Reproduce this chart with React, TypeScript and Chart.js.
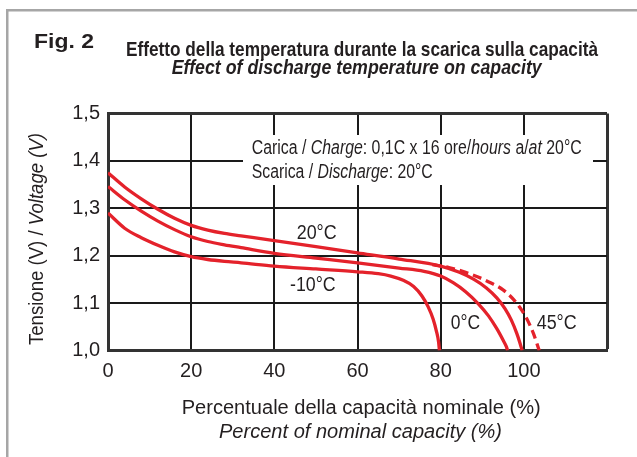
import React, { useEffect, useRef } from 'react';
import { Chart, registerables } from 'chart.js';

Chart.register(...registerables);

// ---- Data ----
const xTickValues = [0, 20, 40, 60, 80, 100];
const xMax = 120;
const yMin = 1.0;
const yMax = 1.5;
const yStep = 0.1;

const capMinus10 = [0, 4, 8, 12, 16, 20, 24, 28, 32, 40, 50, 60, 65, 68, 71, 73.5, 75.5, 77, 78.2, 79, 79.5, 79.7];
const voltMinus10 = [1.29, 1.258, 1.238, 1.222, 1.208, 1.198, 1.192, 1.188, 1.185, 1.178, 1.172, 1.166, 1.162, 1.157, 1.148, 1.135, 1.115, 1.092, 1.066, 1.04, 1.018, 1.0];

const cap0 = [0, 4, 8, 12, 16, 20, 24, 28, 32, 40, 50, 60, 70, 76, 80, 83, 86, 89, 91.5, 93.5, 95, 95.8, 96.1];
const volt0 = [1.346, 1.318, 1.294, 1.273, 1.255, 1.24, 1.23, 1.223, 1.217, 1.205, 1.195, 1.185, 1.174, 1.167, 1.157, 1.143, 1.124, 1.099, 1.073, 1.046, 1.022, 1.008, 1.0];

const cap20 = [0, 4, 8, 12, 16, 20, 24, 28, 32, 40, 50, 60, 70, 80, 84.5, 88, 91, 93.5, 95.5, 97, 98.3, 99.1, 99.6];
const volt20 = [1.375, 1.345, 1.32, 1.298, 1.279, 1.264, 1.254, 1.247, 1.242, 1.232, 1.219, 1.206, 1.193, 1.178, 1.165, 1.15, 1.132, 1.111, 1.088, 1.064, 1.036, 1.015, 1.0];

const cap45 = [78, 82, 86, 89, 92, 95, 97.5, 99.5, 101, 102.3, 103.1, 103.7];
const volt45 = [1.181, 1.175, 1.165, 1.155, 1.143, 1.128, 1.108, 1.085, 1.062, 1.036, 1.016, 1.0];

const seriesLabels = ['-10°C', '0°C', '20°C', '45°C'];

const FONT = '"Liberation Sans", Arial, Helvetica, sans-serif';
const TEXT = '#231f20';
const RED = '#e4222b';
const GRID = '#1a1a1a';
const BORDER = '#333333';

type Seg = { t: string; f: string };

function drawMixed(ctx: CanvasRenderingContext2D, segs: Seg[], x: number, y: number, width: number, align: 'left' | 'center') {
  ctx.save();
  ctx.textAlign = 'left';
  ctx.textBaseline = 'alphabetic';
  ctx.fillStyle = TEXT;
  let total = 0;
  const ws: number[] = [];
  for (const s of segs) {
    ctx.font = s.f;
    const w = ctx.measureText(s.t).width;
    ws.push(w);
    total += w;
  }
  const sx = width / total;
  const startX = align === 'center' ? x - width / 2 : x;
  ctx.translate(startX, y);
  ctx.scale(sx, 1);
  let cx = 0;
  segs.forEach((s, i) => {
    ctx.font = s.f;
    ctx.fillText(s.t, cx, 0);
    cx += ws[i];
  });
  ctx.restore();
}

const n = (px: number) => `${px}px ${FONT}`;
const it = (px: number) => `italic ${px}px ${FONT}`;
const b = (px: number) => `bold ${px}px ${FONT}`;
const bi = (px: number) => `italic bold ${px}px ${FONT}`;

const textPlugin = {
  id: 'textPlugin',
  beforeDatasetsDraw(chart: any) {
    const ctx: CanvasRenderingContext2D = chart.ctx;
    ctx.save();
    ctx.fillStyle = '#ffffff';
    ctx.fillRect(243, 135, 350, 50);
    ctx.restore();
    drawMixed(ctx, [
      { t: 'Carica / ', f: n(20) },
      { t: 'Charge', f: it(20) },
      { t: ': 0,1C x 16 ore/', f: n(20) },
      { t: 'hours', f: it(20) },
      { t: ' a/', f: n(20) },
      { t: 'at', f: it(20) },
      { t: ' 20°C', f: n(20) },
    ], 251.7, 154.3, 330, 'left');
    drawMixed(ctx, [
      { t: 'Scarica / ', f: n(20) },
      { t: 'Discharge', f: it(20) },
      { t: ': 20°C', f: n(20) },
    ], 251.7, 178, 181, 'left');
  },
  afterDraw(chart: any) {
    const ctx: CanvasRenderingContext2D = chart.ctx;
    // outer frame
    ctx.save();
    ctx.fillStyle = '#a6a6a6';
    ctx.fillRect(6, 9, 637, 2.5);
    ctx.fillRect(6, 9, 2.5, 457);
    ctx.restore();

    drawMixed(ctx, [{ t: 'Fig. 2', f: b(21) }], 34, 47.7, 60, 'left');
    drawMixed(ctx, [{ t: 'Effetto della temperatura durante la scarica sulla capacità', f: b(21) }], 126, 56, 472, 'left');
    drawMixed(ctx, [{ t: 'Effect of discharge temperature on capacity', f: bi(21) }], 171.7, 74, 370, 'left');

    drawMixed(ctx, [{ t: 'Percentuale della capacità nominale (%)', f: n(20) }], 181.7, 413.5, 359, 'left');
    drawMixed(ctx, [{ t: 'Percent of nominal capacity (%)', f: it(20) }], 219, 438, 283, 'left');

    ctx.save();
    ctx.translate(43.3, 239);
    ctx.rotate(-Math.PI / 2);
    drawMixed(ctx, [
      { t: 'Tensione (V) / ', f: n(20) },
      { t: 'Voltage (V)', f: it(20) },
    ], 0, 0, 212, 'center');
    ctx.restore();

    // curve labels
    drawMixed(ctx, [{ t: '20°C', f: n(20) }], 296.7, 239.3, 40, 'left');
    drawMixed(ctx, [{ t: '-10°C', f: n(20) }], 290, 290.7, 45.7, 'left');
    drawMixed(ctx, [{ t: '0°C', f: n(20) }], 450.7, 329.3, 29.3, 'left');
    drawMixed(ctx, [{ t: '45°C', f: n(20) }], 536.7, 329.3, 40, 'left');
  },
};

function pts(xs: number[], ys: number[]) {
  return xs.map((x, i) => ({ x, y: ys[i] }));
}

export default function App() {
  const ref = useRef<HTMLCanvasElement | null>(null);
  useEffect(() => {
    if (!ref.current) return;
    const lineBase = {
      borderColor: RED,
      borderWidth: 3.3,
      pointRadius: 0,
      fill: false,
      cubicInterpolationMode: 'monotone' as const,
      borderCapStyle: 'butt' as const,
    };
    const chart = new Chart(ref.current, {
      type: 'line',
      data: {
        datasets: [
          { ...lineBase, label: seriesLabels[0], data: pts(capMinus10, voltMinus10) },
          { ...lineBase, label: seriesLabels[1], data: pts(cap0, volt0) },
          { ...lineBase, label: seriesLabels[2], data: pts(cap20, volt20) },
          { ...lineBase, label: seriesLabels[3], data: pts(cap45, volt45), borderDash: [9, 5] },
        ],
      },
      options: {
        animation: false,
        responsive: false,
        devicePixelRatio: 1,
        layout: { padding: { left: 0, top: 113.5, right: 30, bottom: 0 } },
        plugins: { legend: { display: false }, tooltip: { enabled: false }, title: { display: false } },
        scales: {
          x: {
            type: 'linear',
            min: 0,
            max: xMax,
            afterFit: (s: any) => { s.height = 106.5; },
            afterBuildTicks: (s: any) => {
              s.ticks = [...xTickValues, xMax].map((v) => ({ value: v }));
            },
            ticks: {
              padding: 9,
              color: TEXT,
              font: { family: FONT, size: 20 },
              maxRotation: 0,
              autoSkip: false,
              callback: (v: any) => (xTickValues.includes(Number(v)) ? String(v) : ''),
            },
            grid: {
              drawTicks: false,
              color: (c: any) => (c.tick && c.tick.value === xMax ? BORDER : GRID),
              lineWidth: (c: any) => (c.tick && c.tick.value === xMax ? 3 : 2),
            },
            border: { display: true, color: BORDER, width: 3 },
          },
          y: {
            type: 'linear',
            min: yMin,
            max: yMax,
            afterFit: (s: any) => { s.width = 108; },
            ticks: {
              stepSize: yStep,
              padding: 8,
              color: TEXT,
              font: { family: FONT, size: 20 },
              callback: (v: any) => Number(v).toFixed(1).replace('.', ','),
            },
            grid: {
              drawTicks: false,
              color: (c: any) => (c.tick && Math.abs(c.tick.value - yMax) < 1e-6 ? BORDER : GRID),
              lineWidth: (c: any) => (c.tick && Math.abs(c.tick.value - yMax) < 1e-6 ? 3 : 2),
            },
            border: { display: true, color: BORDER, width: 3 },
          },
        },
      },
      plugins: [textPlugin],
    } as any);
    return () => chart.destroy();
  }, []);
  return (
    <div style={{ position: 'absolute', left: 0, top: 0, width: 637, height: 457, background: '#fff' }}>
      <canvas ref={ref} width={637} height={457} style={{ display: 'block' }} />
    </div>
  );
}
